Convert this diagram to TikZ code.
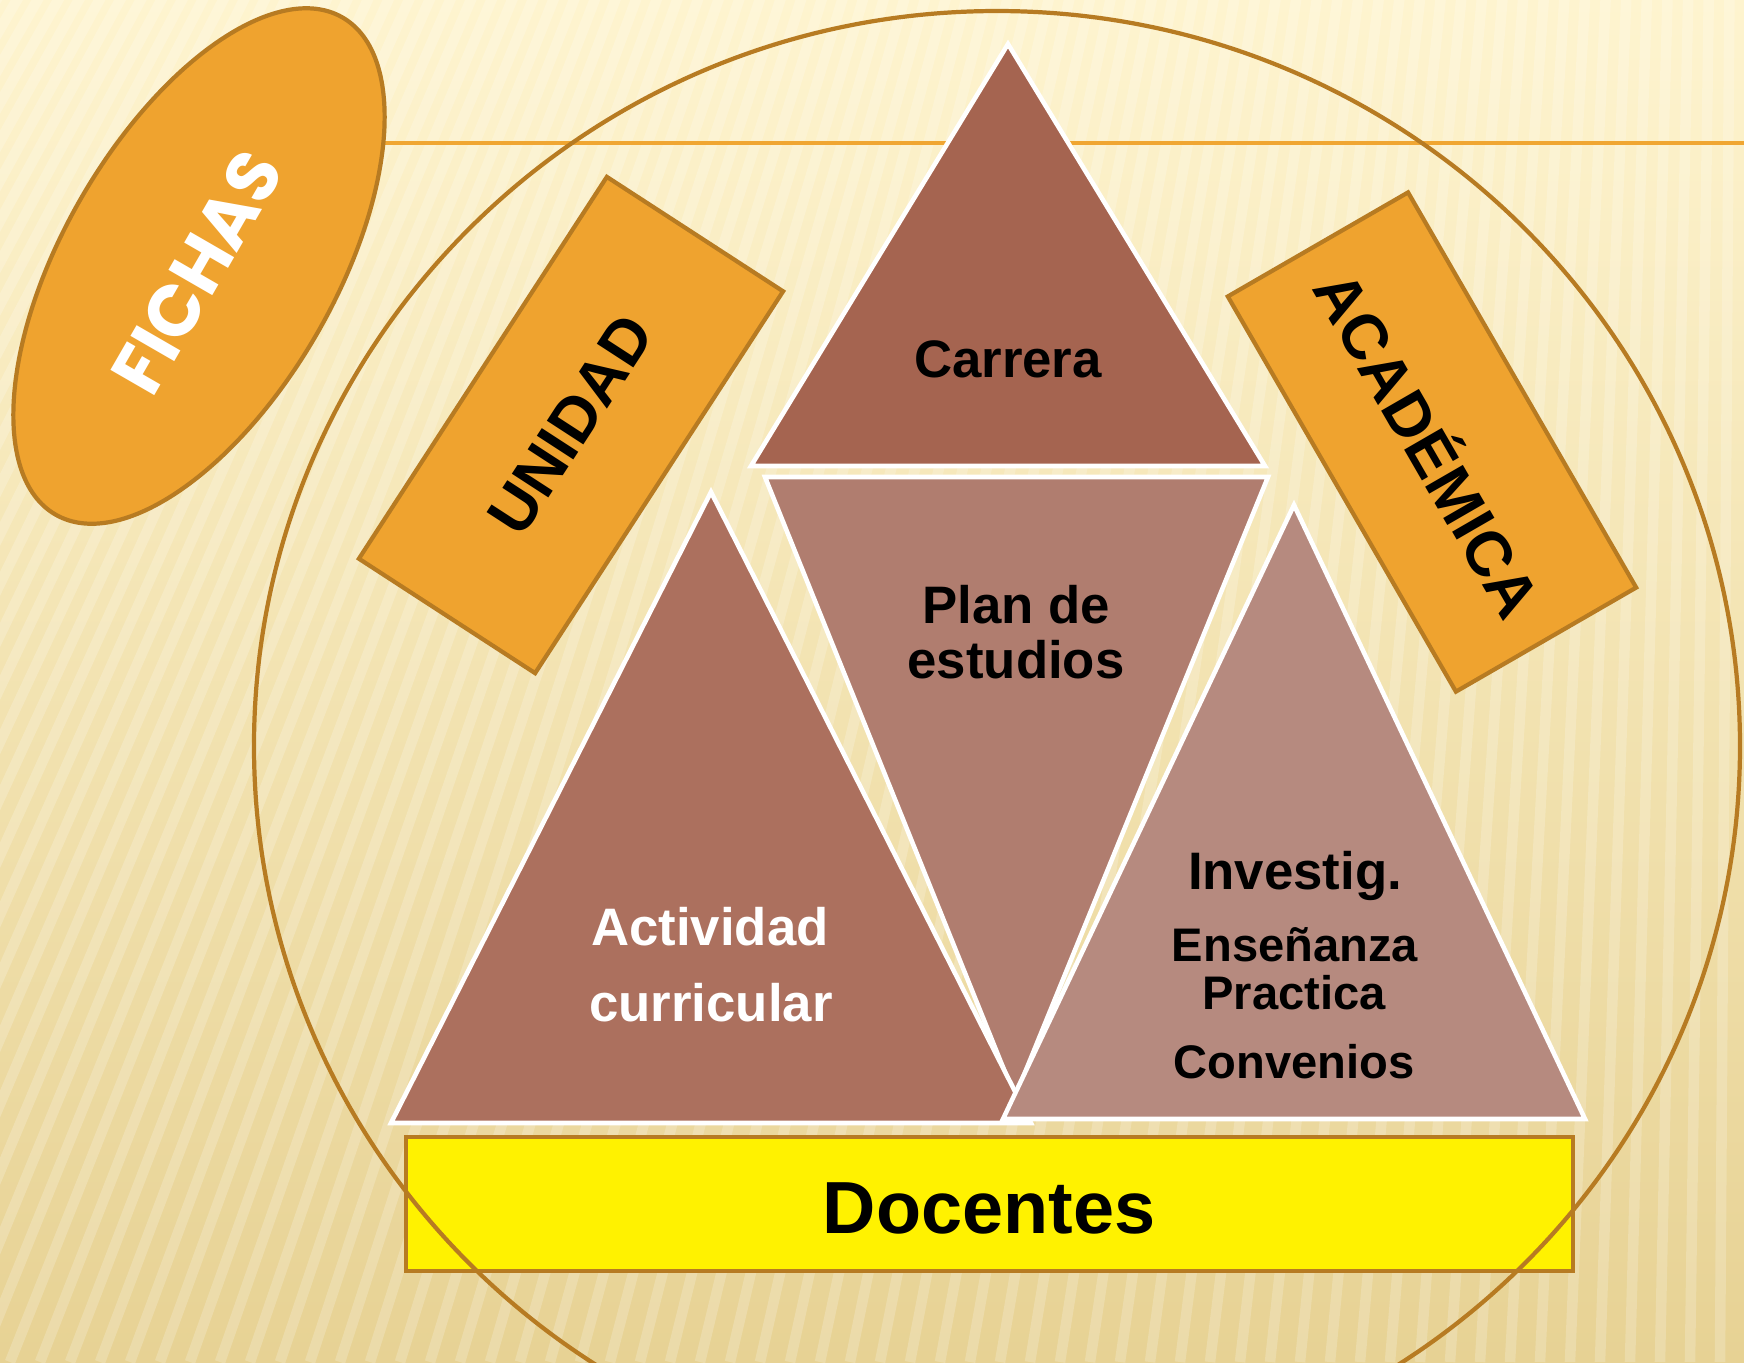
\documentclass[tikz,border=0pt]{standalone}
\usepackage{fontspec}
\setmainfont{Liberation Sans}
\newfontfamily\gothicfont{Poppins}

\definecolor{bgtop}{RGB}{254,244,207}
\definecolor{bgmid}{RGB}{249,234,186}
\definecolor{bgbot}{RGB}{231,210,148}
\definecolor{ochre}{RGB}{239,163,47}
\definecolor{ochreline}{RGB}{183,123,34}
\definecolor{rulecol}{RGB}{240,166,50}
\definecolor{carreracol}{RGB}{165,100,80}
\definecolor{plancol}{RGB}{176,125,111}
\definecolor{actcol}{RGB}{172,112,94}
\definecolor{invcol}{RGB}{182,138,127}

\begin{document}
\begin{tikzpicture}[x=0.01cm,y=-0.01cm]
        \tikzstyle{tri}=[draw=white, line width=1.3pt, line join=miter]
        \tikzstyle{ochre box}=[draw=ochreline, fill=ochre, line width=1.2pt]
        \tikzstyle{word}=[inner sep=0pt, anchor=base, font=\bfseries\fontsize{15}{18}\selectfont]
        \tikzstyle{small word}=[word, font=\bfseries\fontsize{13.4}{16}\selectfont]
        \useasboundingbox (0,0) rectangle (1744,1362);
        % background
        \begin{scope}
            \clip (0,0) rectangle (1744,1362);
            \shade[top color=bgtop, middle color=bgmid, bottom color=bgbot] (0,0) rectangle (1744,1362);
            \foreach \b in {-800,-770,...,1800}
                \draw[white, opacity=0.2, line width=3pt] (1750,-3000) -- (\b,1362);
            \draw[rulecol, line width=1pt] (385,143) -- (1744,143);
        \end{scope}
        % orange labels
        \draw[ochre box, rotate around={60:(199,266)}] (199,266) ellipse [x radius=287, y radius=136];
        \node[white, rotate=60, font=\gothicfont\bfseries\fontsize{20.5}{24}\selectfont] (fichas) at (197,272) {FICHAS};
        \node[ochre box, rotate=57, minimum width=4.55cm, minimum height=2.1cm,
              font=\bfseries\fontsize{18}{20}\selectfont] (unidad) at (571,425) {UNIDAD};
        \node[ochre box, rotate=-60, minimum width=4.56cm, minimum height=2.08cm,
              font=\bfseries\fontsize{18}{20}\selectfont] (academica) at (1432,442) {ACADÉMICA};
        % triangles
        \filldraw[tri, fill=plancol] (765,477) -- (1268,477) -- (1015,1097) -- cycle;
        \filldraw[tri, fill=actcol] (711,492) -- (1031,1123) -- (391,1123) -- cycle;
        \filldraw[tri, fill=invcol] (1294,505) -- (1585,1119) -- (1003,1119) -- cycle;
        \filldraw[tri, fill=carreracol] (1008,44) -- (1265,466) -- (751,466) -- cycle;
        \node[word] (carrera) at (1008,377) {Carrera};
        \node[word] (plan) at (1016,623) {Plan de};
        \node[word] (estudios) at (1016,678) {estudios};
        \node[word, white] (actividad) at (710,945) {Actividad};
        \node[word, white] (curricular) at (711,1021) {curricular};
        \node[word] (investig) at (1295,889) {Investig.};
        \node[small word] (ensenanza) at (1295,961) {Enseñanza};
        \node[small word] (practica) at (1294,1009) {Practica};
        \node[small word] (convenios) at (1294,1078) {Convenios};
        % base
        \filldraw[draw=ochreline, fill=yellow, line width=1.4pt] (406,1137) rectangle (1573,1271);
        \node[word, font=\bfseries\fontsize{21}{24}\selectfont] (docentes) at (989,1233) {Docentes};
        \draw[ochreline, line width=1.2pt] (997,746) ellipse [x radius=743, y radius=735];
\end{tikzpicture}
\end{document}
